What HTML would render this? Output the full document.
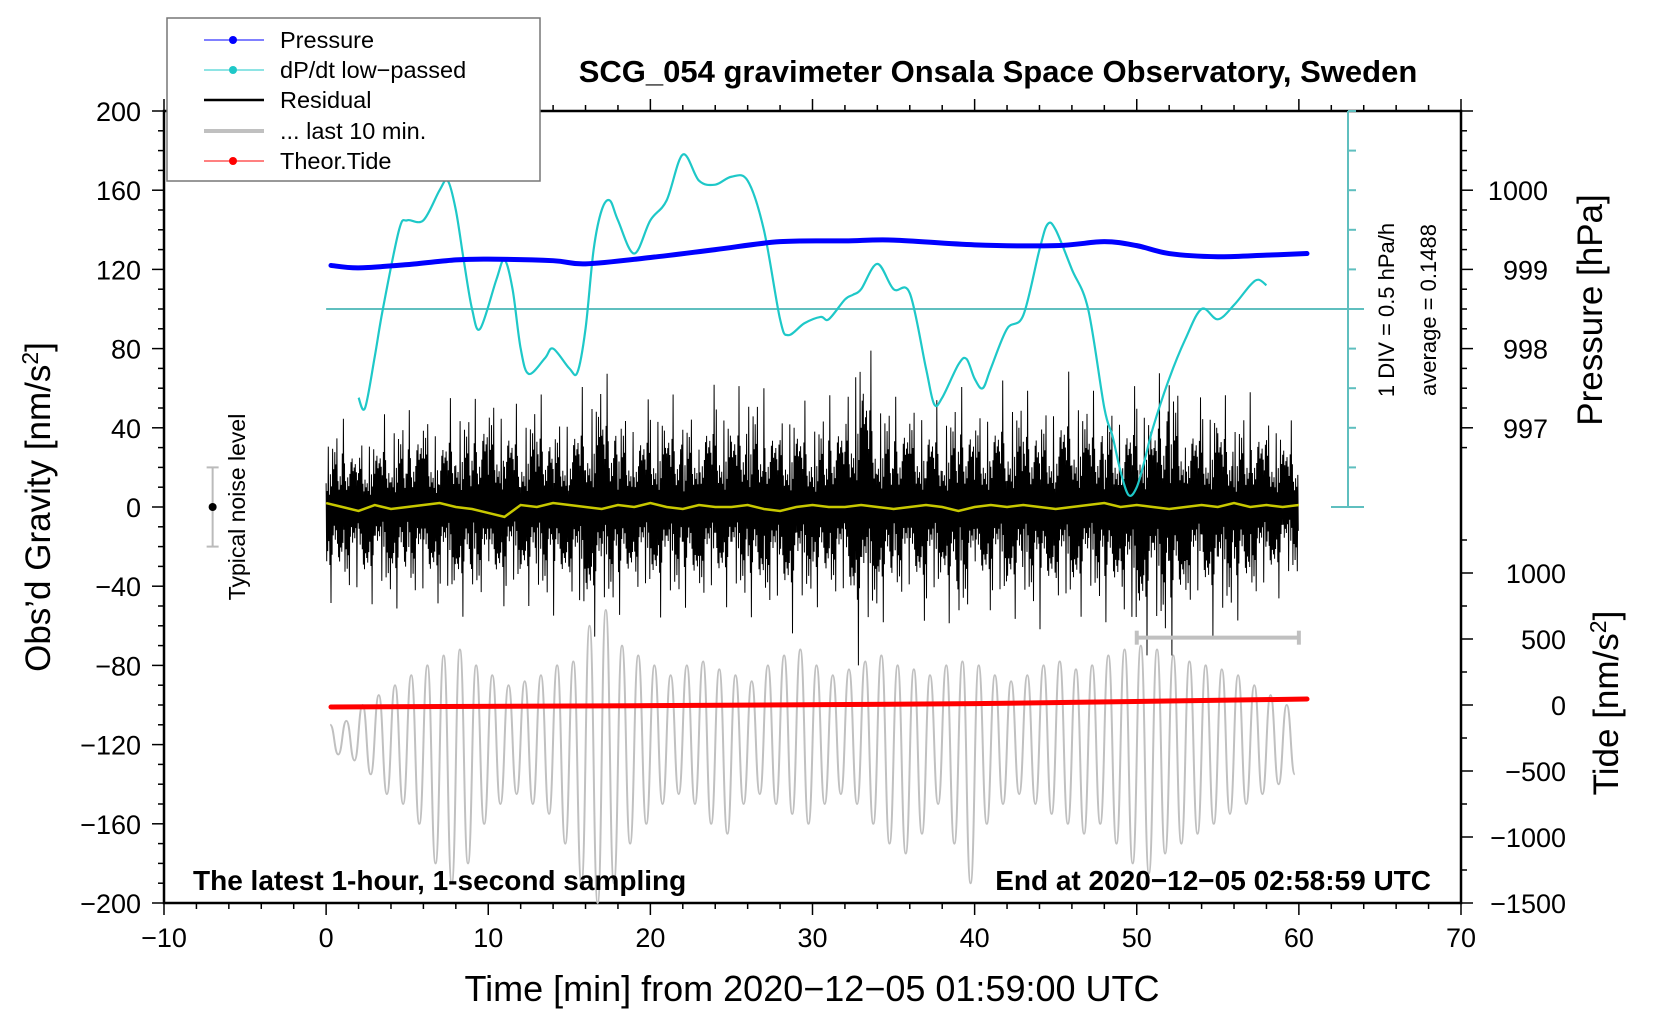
<!DOCTYPE html>
<html><head><meta charset="utf-8"><style>
html,body{margin:0;padding:0;background:#fff;}
svg{display:block;font-family:"Liberation Sans",sans-serif;}
</style></head><body>
<svg id="chart" width="1660" height="1020" viewBox="0 0 1660 1020">
<g id="g"></g>
</svg>
<script>
// ---- data ----
const xTicks = [-10,0,10,20,30,40,50,60,70];
const yTicks = [-200,-160,-120,-80,-40,0,40,80,120,160,200];
const pTicks = [1000,999,998,997];
const tideTicks = [1000,500,0,-500,-1000,-1500];
const pressT = [0.3,2,5,8,10,14,16,20,24,28,32,35,40,45,48,50,52,55,58,60.5];
const pressV = [999.05,999.02,999.06,999.12,999.13,999.11,999.07,999.15,999.25,999.35,999.36,999.37,999.31,999.3,999.35,999.3,999.2,999.16,999.18,999.2];
const dpT = [2,2.4,3,3.5,4.5,5,6,7,7.5,8,8.5,9,9.5,10.5,11,11.5,12,12.5,13.5,14,15,15.5,16,16.5,17,17.5,18,19,20,21,22,23,24,25,26,27,28,28.5,29.5,30.5,31,32,32.5,33,34,35,36,37,37.5,38,39,39.5,40,40.5,41,42,43,44,44.5,45,46,47,48,48.5,49,49.5,50,50.5,51,52,53,54,55,56,57,57.5,58];
const dpV = [1.38,1.25,1.9,2.5,3.5,3.62,3.62,4.0,4.12,3.75,3.1,2.5,2.25,2.87,3.12,2.75,2.0,1.68,1.88,2.0,1.75,1.7,2.25,3.25,3.75,3.87,3.62,3.2,3.62,3.87,4.45,4.12,4.07,4.17,4.12,3.5,2.37,2.17,2.32,2.4,2.37,2.62,2.68,2.75,3.07,2.75,2.7,1.75,1.3,1.38,1.8,1.87,1.62,1.5,1.75,2.25,2.42,3.25,3.57,3.5,3.0,2.5,1.25,0.9,0.45,0.15,0.25,0.6,1.0,1.62,2.12,2.5,2.37,2.55,2.8,2.87,2.8];
const resHi = [40,45,38,42,50,48,55,45,60,52,65,58,50,60,48,55,62,72,58,50,55,60,52,58,62,55,68,60,52,58,50,56,62,100,65,55,60,58,52,62,55,58,66,60,55,62,70,58,60,55,62,58,82,60,55,62,50,58,52,48,40];
const resLo = [-50,-45,-55,-48,-52,-50,-55,-48,-58,-52,-55,-50,-48,-52,-55,-50,-70,-62,-55,-50,-52,-58,-50,-55,-52,-50,-55,-58,-60,-65,-50,-52,-55,-85,-60,-55,-52,-58,-50,-70,-55,-52,-58,-55,-62,-55,-60,-52,-58,-60,-80,-72,-78,-60,-55,-72,-58,-55,-50,-45,-40];
const yel = [2,0,-2,1,-1,0,1,2,0,-1,-3,-5,1,0,2,1,0,-1,1,0,2,0,-1,1,0,0,1,-1,-2,0,1,0,0,1,0,-1,0,1,0,-2,0,1,0,1,0,-1,0,1,2,0,1,0,-1,0,1,0,2,0,1,0,1];
const grayHi = [-110,-108,-100,-95,-90,-85,-80,-75,-72,-80,-85,-90,-88,-85,-80,-78,-60,-52,-70,-75,-80,-85,-80,-78,-82,-85,-88,-80,-75,-72,-80,-85,-82,-78,-75,-80,-82,-85,-80,-78,-80,-85,-88,-85,-80,-78,-82,-80,-75,-72,-70,-72,-75,-78,-80,-82,-85,-90,-95,-100];
const grayLo = [-125,-128,-135,-145,-150,-160,-180,-190,-180,-160,-150,-145,-150,-155,-170,-190,-200,-190,-170,-160,-150,-145,-150,-160,-165,-150,-145,-150,-155,-160,-150,-145,-150,-160,-170,-175,-165,-150,-170,-190,-160,-150,-145,-150,-155,-160,-165,-160,-170,-180,-185,-175,-170,-165,-160,-155,-150,-145,-140,-135];
const tideT = [0.3,20,40,60.5];
const tideV = [-15,-5,10,45];

// ---- scales ----
const L=164,R=1461,T=111,B=903;
const X=t=>L+(t+10)/80*(R-L);
const Y=v=>B-(v+200)/400*(B-T);
const YP=p=>Y(160+(p-1000)*40);
const YT=tv=>Y(-100+tv/15);
const YD=d=>Y(d*40);
const NS='http://www.w3.org/2000/svg';
const g=document.getElementById('g');
function el(tag,attrs,parent){const e=document.createElementNS(NS,tag);for(const k in attrs)e.setAttribute(k,attrs[k]);(parent||g).appendChild(e);return e;}
function txt(s,attrs,parent){const e=el('text',attrs,parent);e.textContent=s;return e;}
function smooth(p){let d=`M${p[0][0]},${p[0][1]}`;for(let i=0;i<p.length-1;i++){const a=p[Math.max(0,i-1)],b=p[i],c=p[i+1],e=p[Math.min(p.length-1,i+2)];
 d+=` C${b[0]+(c[0]-a[0])/6},${b[1]+(c[1]-a[1])/6} ${c[0]-(e[0]-b[0])/6},${c[1]-(e[1]-b[1])/6} ${c[0]},${c[1]}`;}return d;}

// frame
const fr=el('rect',{x:L,y:T,width:R-L,height:B-T,fill:'none',stroke:'#000','stroke-width':2.5});



// x ticks
const xa=el('g',{});


for(let t=-10;t<=70;t+=2){const big=t%10===0;const x=X(t);
 el('line',{x1:x,x2:x,y1:B,y2:B+(big?12:6),stroke:'#000','stroke-width':1.5},xa);
 el('line',{x1:x,x2:x,y1:T,y2:T-(big?12:6),stroke:'#000','stroke-width':1.5},xa);}
xTicks.forEach(t=>{const l=txt(String(t).replace('-','\u2212'),{x:X(t),y:947,'font-size':27,'text-anchor':'middle'},xa);
 
 });
// y ticks
const ya=el('g',{});


for(let v=-200;v<=200;v+=10){const big=v%40===0;const y=Y(v);
 el('line',{x1:L,x2:L-(big?12:6),y1:y,y2:y,stroke:'#000','stroke-width':1.5},ya);}
yTicks.forEach(v=>{const l=txt(String(v).replace('-','\u2212'),{x:141,y:Y(v)+10,'font-size':27,'text-anchor':'end'},ya);
 
 });
// right pressure axis
const pa=el('g',{});


for(let p=996.75;p<=1001.001;p+=0.25){const big=Math.abs(p-Math.round(p))<1e-6;const y=YP(p);
 el('line',{x1:R,x2:R+(big?12:6),y1:y,y2:y,stroke:'#000','stroke-width':1.5},pa);}
pTicks.forEach(p=>{const l=txt(String(p),{x:1548,y:YP(p)+10,'font-size':27,'text-anchor':'end'},pa);
 
 });
// tide axis
const ta=el('g',{});


for(let tv=-1500;tv<=1250;tv+=250){const big=tv%500===0;const y=YT(tv);
 el('line',{x1:R,x2:R+(big?12:6),y1:y,y2:y,stroke:'#000','stroke-width':1.5},ta);}
tideTicks.forEach(tv=>{const l=txt(String(tv).replace('-','\u2212'),{x:1566,y:YT(tv)+10,'font-size':27,'text-anchor':'end'},ta);
 
 });

// cyan scale
const cs=el('g',{stroke:'#5fbfbf','stroke-width':2});


el('line',{x1:1348,x2:1348,y1:T,y2:Y(0)},cs);
for(let d=0;d<=10;d++){el('line',{x1:1348,x2:1356,y1:Y(d*20),y2:Y(d*20)},cs);}
el('line',{x1:1331,x2:1364,y1:Y(0),y2:Y(0)},cs);
const avg=el('line',{x1:X(0),x2:1364,y1:Y(100),y2:Y(100)},cs);


const t1=txt('1 DIV = 0.5 hPa/h',{x:0,y:0,'font-size':22,'text-anchor':'middle',transform:'translate(1394,310) rotate(-90)'});


const t2=txt('average = 0.1488',{x:0,y:0,'font-size':22,'text-anchor':'middle',transform:'translate(1436,310) rotate(-90)'});



// gray last 10 min
let pts=[];
grayHi.forEach((h,i)=>{pts.push([X(i+0.25),Y(h)]);pts.push([X(i+0.75),Y(grayLo[i])]);});
let gp=`M${pts[0][0]},${pts[0][1]} `;
for(let i=1;i<pts.length;i++){const a=pts[i-1],b=pts[i],m=(a[0]+b[0])/2;gp+=`C${m},${a[1]} ${m},${b[1]} ${b[0]},${b[1]} `;}
const gl=el('path',{d:gp,fill:'none',stroke:'#c0c0c0','stroke-width':2});



// residual
const frac=[0.3,0.55,0.2,0.45,0.75,0.35,0.15,0.6,0.4,1.0,0.25,0.5,0.7,0.3,0.45,0.2,0.65,0.35,0.5,0.25,0.8,0.4,0.3,0.55,0.2,0.6,0.35,0.45,0.25,0.5];
const rp=[];
for(let m=0;m<60;m++){for(let j=0;j<30;j++){const hi=resHi[m]+(resHi[m+1]-resHi[m])*j/30,lo=resLo[m]+(resLo[m+1]-resLo[m])*j/30;
 const f=frac[(j+m*7)%30];const v=j%2===0?hi*f:lo*f;rp.push(X(m+j/30).toFixed(1)+','+Y(v).toFixed(1));}}
const rl=el('polyline',{points:rp.join(' '),fill:'none',stroke:'#000','stroke-width':1});


// yellow
const yl=el('polyline',{points:yel.map((v,i)=>X(i)+','+Y(v)).join(' '),fill:'none',stroke:'#c8c800','stroke-width':2.5});



// cyan dp/dt
const cl=el('path',{d:smooth(dpT.map((t,i)=>[X(t),YD(dpV[i])])),fill:'none',stroke:'#1ec8c8','stroke-width':2.2,'stroke-linejoin':'round'});


// pressure
const pl=el('path',{d:smooth(pressT.map((t,i)=>[X(t),YP(pressV[i])])),fill:'none',stroke:'#0000ff','stroke-width':5,'stroke-linecap':'round','stroke-linejoin':'round'});


// tide
const tl=el('polyline',{points:tideT.map((t,i)=>X(t)+','+YT(tideV[i])).join(' '),fill:'none',stroke:'#ff0000','stroke-width':5,'stroke-linecap':'round'});



// last 10 min bar
const lb=el('g',{stroke:'#c0c0c0','stroke-width':4});


el('line',{x1:X(50),x2:X(60),y1:Y(-66),y2:Y(-66)},lb);
el('line',{x1:X(50),x2:X(50),y1:Y(-66)-7,y2:Y(-66)+7},lb);
el('line',{x1:X(60),x2:X(60),y1:Y(-66)-7,y2:Y(-66)+7},lb);
// noise level
const nl=el('g',{});


el('line',{x1:X(-7),x2:X(-7),y1:Y(20),y2:Y(-20),stroke:'#bbb','stroke-width':2},nl);
el('line',{x1:X(-7)-6,x2:X(-7)+6,y1:Y(20),y2:Y(20),stroke:'#bbb','stroke-width':2},nl);
el('line',{x1:X(-7)-6,x2:X(-7)+6,y1:Y(-20),y2:Y(-20),stroke:'#bbb','stroke-width':2},nl);
el('circle',{cx:X(-7),cy:Y(0),r:4,fill:'#000'},nl);
txt('Typical noise level',{x:0,y:0,'font-size':23,'text-anchor':'middle',transform:`translate(245,${Y(0)}) rotate(-90)`},nl);
</script>

<svg width="1660" height="1020" style="position:absolute;left:0;top:0">
<text x="998" y="82" font-size="31" font-weight="bold" text-anchor="middle" font-family="Liberation Sans, sans-serif">SCG_054 gravimeter Onsala Space Observatory, Sweden</text>
<text x="193" y="890" font-size="28" font-weight="bold" font-family="Liberation Sans, sans-serif">The latest 1-hour, 1-second sampling</text>
<text x="1431" y="890" font-size="28" font-weight="bold" text-anchor="end" font-family="Liberation Sans, sans-serif">End at 2020−12−05 02:58:59 UTC</text>
<text x="812" y="1001" font-size="36" text-anchor="middle" font-family="Liberation Sans, sans-serif">Time [min] from 2020−12−05 01:59:00 UTC</text>
<text transform="translate(50,507) rotate(-90)" font-size="35" text-anchor="middle" font-family="Liberation Sans, sans-serif">Obs’d Gravity [nm/s<tspan dy="-12" font-size="23">2</tspan><tspan dy="12">]</tspan></text>
<text transform="translate(1602,310) rotate(-90)" font-size="35" text-anchor="middle" font-family="Liberation Sans, sans-serif">Pressure [hPa]</text>
<text transform="translate(1618,703) rotate(-90)" font-size="35" text-anchor="middle" font-family="Liberation Sans, sans-serif">Tide [nm/s<tspan dy="-12" font-size="23">2</tspan><tspan dy="12">]</tspan></text>
<g font-family="Liberation Sans, sans-serif" font-size="23.5">
<rect x="167" y="18" width="373" height="163" fill="#fff" stroke="#777" stroke-width="1.5"/>
<line x1="204" x2="264" y1="40" y2="40" stroke="#0000ff" stroke-width="1"/><circle cx="233" cy="40" r="4" fill="#0000ff"/>
<text x="280" y="48">Pressure</text>
<line x1="204" x2="264" y1="70" y2="70" stroke="#1ec8c8" stroke-width="1"/><circle cx="233" cy="70" r="4" fill="#1ec8c8"/>
<text x="280" y="78">dP/dt low−passed</text>
<line x1="204" x2="264" y1="100" y2="100" stroke="#000" stroke-width="2.5"/>
<text x="280" y="108">Residual</text>
<line x1="204" x2="264" y1="131" y2="131" stroke="#c0c0c0" stroke-width="4"/>
<text x="280" y="139">... last 10 min.</text>
<line x1="204" x2="264" y1="161" y2="161" stroke="#ff0000" stroke-width="1"/><circle cx="233" cy="161" r="4" fill="#ff0000"/>
<text x="280" y="169">Theor.Tide</text>
</g>
</svg>
</body></html>
